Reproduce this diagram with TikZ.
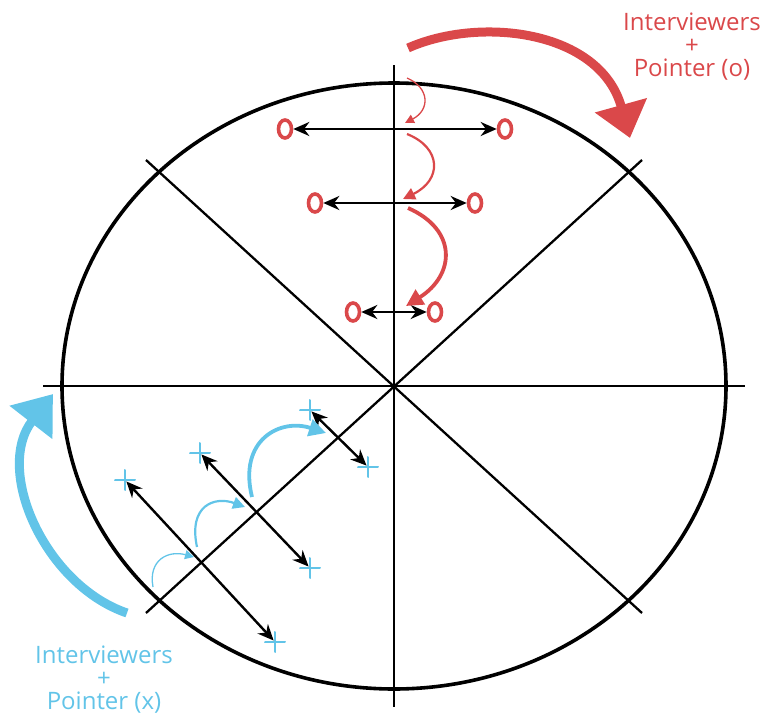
\documentclass[tikz,border=0pt]{standalone}
\usepackage{fontspec}
\setmainfont{Open Sans}
\usetikzlibrary{arrows.meta,shapes.geometric}
\definecolor{rot}{RGB}{218,72,74}
\definecolor{blau}{RGB}{98,196,232}
\tikzset{
  omark/.style={ellipse, draw=rot, line width=3.6pt, minimum width=13pt, minimum height=18pt, inner sep=0pt},
  xmark/.style={minimum size=20pt, inner sep=0pt, rotate=-18,
    path picture={\draw[blau, line width=2.2pt]
      (path picture bounding box.north) -- (path picture bounding box.south)
      (path picture bounding box.west) -- (path picture bounding box.east);}},
  dblpfeil/.style={{Stealth[length=16pt,width=14pt]}-{Stealth[length=16pt,width=14pt]}, line width=2.4pt},
  beschr/.style={align=center, font=\fontsize{24}{23}\selectfont, inner sep=0pt}
}
\begin{document}
\begin{tikzpicture}[x=1pt, y=-1pt]
\useasboundingbox (0,0) rectangle (764,718);
% Ellipse: Mittelpunkt M=(394,386), Halbachsen rx=332, ry=303
\def\rx{332}
\def\ry{303}
\coordinate (M)  at (394, 386);
\coordinate (W)  at (43, 386);
\coordinate (E)  at (745, 386);
\coordinate (N)  at (394, 65);
\coordinate (S)  at (394, 707);
\coordinate (NO) at (642, 160);
\coordinate (NW) at (146, 160);
\coordinate (SW) at (146, 613);
\coordinate (SO) at (642, 613);
% Ellipse und Achsen
\draw[line width=3.6pt] (M) ellipse [x radius=\rx pt, y radius=\ry pt];
\draw[line width=2.3pt] (W) -- (E);
\draw[line width=2.3pt] (N) -- (S);
\draw[line width=2.3pt] (NW) -- (SO);
\draw[line width=2.3pt] (SW) -- (NO);
% Interviewer (o)
\node[omark] (o1l) at (285, 129) {};
\node[omark] (o1r) at (505, 129) {};
\node[omark] (o2l) at (315, 203) {};
\node[omark] (o2r) at (475, 203) {};
\node[omark] (o3l) at (353, 312) {};
\node[omark] (o3r) at (435, 312) {};
\draw[dblpfeil] (o1l) -- (o1r);
\draw[dblpfeil] (o2l) -- (o2r);
\draw[dblpfeil] (o3l) -- (o3r);
% Interviewer (x)
\node[xmark] (x1a) at (125, 480) {};
\node[xmark] (x1b) at (275, 642) {};
\node[xmark] (x2a) at (200, 453) {};
\node[xmark] (x2b) at (310, 568) {};
\node[xmark] (x3a) at (310, 410) {};
\node[xmark] (x3b) at (368, 467) {};
\draw[dblpfeil, shorten <=2pt, shorten >=2pt] (x1a.center) -- (x1b.center);
\draw[dblpfeil, shorten <=2pt, shorten >=2pt] (x2a.center) -- (x2b.center);
\draw[dblpfeil, shorten <=2pt, shorten >=2pt] (x3a.center) -- (x3b.center);
% kleine Pfeile (rot)
\coordinate (r1a) at (407, 78);
\coordinate (r1b) at (405, 123);
\coordinate (r2a) at (407, 134);
\coordinate (r2b) at (403, 199);
\coordinate (r3a) at (408, 208);
\coordinate (r3b) at (406, 306);
\draw[rot, line width=1.3pt, -{Triangle[length=9pt,width=9pt]}] (r1a) .. controls (430, 88) and (430, 110) .. (r1b);
\draw[rot, line width=2.2pt, -{Triangle[length=12pt,width=12pt]}] (r2a) .. controls (442, 148) and (442, 180) .. (r2b);
\draw[rot, line width=3.8pt, -{Triangle[length=17pt,width=17pt]}] (r3a) .. controls (458, 230) and (455, 275) .. (r3b);
% kleine Pfeile (blau)
\coordinate (b1a) at (153, 587);
\coordinate (b1b) at (194, 557);
\coordinate (b2a) at (197, 547);
\coordinate (b2b) at (245, 507);
\coordinate (b3a) at (252, 497);
\coordinate (b3b) at (326, 433);
\draw[blau, line width=1.3pt, -{Triangle[length=9pt,width=9pt]}] (b1a) .. controls (148, 560) and (168, 550) .. (b1b);
\draw[blau, line width=2.2pt, -{Triangle[length=12pt,width=12pt]}] (b2a) .. controls (188, 505) and (215, 496) .. (b2b);
\draw[blau, line width=3.8pt, -{Triangle[length=17pt,width=17pt]}] (b3a) .. controls (238, 440) and (280, 418) .. (b3b);
% grosse Pfeile
\coordinate (R0) at (408, 48);
\coordinate (R1) at (630, 138);
\coordinate (B0) at (127, 613);
\coordinate (B1) at (53, 394);
\draw[rot, line width=9pt, -{Triangle[length=34pt,width=52pt]}] (R0) .. controls (480, 16) and (600, 30) .. (R1);
\draw[blau, line width=9pt, -{Triangle[length=36pt,width=52pt]}] (B0) .. controls (45, 585) and (-6, 470) .. (B1);
% Beschriftungen
\node[beschr, text=rot]  (lo) at (692, 47)  {Interviewers\\+\\Pointer (o)};
\node[beschr, text=blau] (lx) at (104, 680) {Interviewers\\+\\Pointer (x)};
\end{tikzpicture}
\end{document}
